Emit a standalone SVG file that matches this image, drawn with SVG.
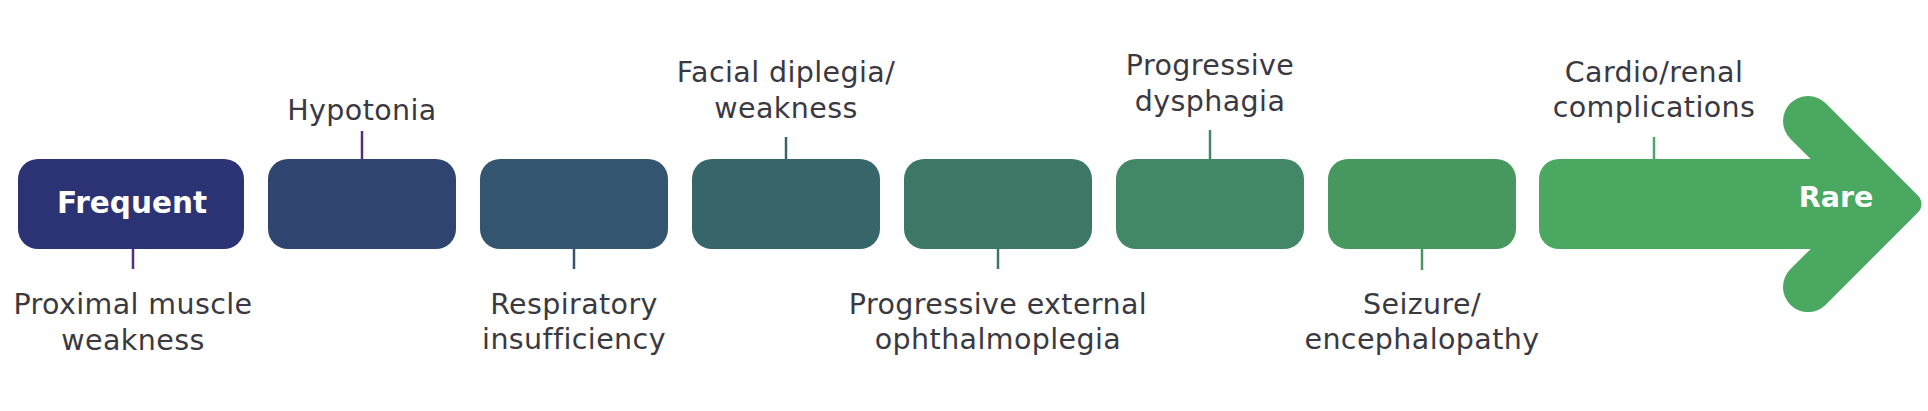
<svg xmlns="http://www.w3.org/2000/svg" width="1928" height="411" viewBox="0 0 1928 411">
<style>
.lbl{font-family:'DejaVu Sans','Open Sans',sans-serif;font-size:28.5px;fill:#3a393f;text-anchor:middle;letter-spacing:0.4px}
.big{font-family:'DejaVu Sans','Open Sans',sans-serif;font-weight:700;fill:#ffffff;text-anchor:middle}
.con{stroke-width:2.5;fill:none}
</style>
<rect width="1928" height="411" fill="#ffffff"/>
<g id="connectors">
<line class="con" x1="133" y1="249" x2="133" y2="269" stroke="#5a2c7e"/>
<line class="con" x1="362" y1="131" x2="362" y2="159" stroke="#5a2c7e"/>
<line class="con" x1="574" y1="249" x2="574" y2="269" stroke="#34556f"/>
<line class="con" x1="786" y1="137" x2="786" y2="159" stroke="#37666a"/>
<line class="con" x1="998" y1="249" x2="998" y2="269" stroke="#3c7768"/>
<line class="con" x1="1210" y1="130" x2="1210" y2="159" stroke="#428866"/>
<line class="con" x1="1422" y1="249" x2="1422" y2="270" stroke="#46985f"/>
<line class="con" x1="1654" y1="137" x2="1654" y2="159" stroke="#4aa860"/>
</g>
<g id="node-frequent">
<rect x="18" y="159" width="226" height="90" rx="20" fill="#2b3374"/>
<text class="big" x="132" y="213" font-size="29.5">Frequent</text>
<text class="lbl" x="133" y="314">Proximal muscle<tspan x="133" dy="36">weakness</tspan></text>
</g>
<g id="node-hypotonia">
<rect x="268" y="159" width="188" height="90" rx="20" fill="#2f4570"/>
<text class="lbl" x="362" y="120">Hypotonia</text>
</g>
<g id="node-respiratory">
<rect x="480" y="159" width="188" height="90" rx="20" fill="#33556f"/>
<text class="lbl" x="574" y="314">Respiratory<tspan x="574" dy="35">insufficiency</tspan></text>
</g>
<g id="node-facial">
<rect x="692" y="159" width="188" height="90" rx="20" fill="#37666a"/>
<text class="lbl" x="786" y="82">Facial diplegia/<tspan x="786" dy="36">weakness</tspan></text>
</g>
<g id="node-peo">
<rect x="904" y="159" width="188" height="90" rx="20" fill="#3c7768"/>
<text class="lbl" x="998" y="314">Progressive external<tspan x="998" dy="35">ophthalmoplegia</tspan></text>
</g>
<g id="node-dysphagia">
<rect x="1116" y="159" width="188" height="90" rx="20" fill="#428866"/>
<text class="lbl" x="1210" y="75">Progressive<tspan x="1210" dy="36">dysphagia</tspan></text>
</g>
<g id="node-seizure">
<rect x="1328" y="159" width="188" height="90" rx="20" fill="#46985f"/>
<text class="lbl" x="1422" y="314">Seizure/<tspan x="1422" dy="35">encephalopathy</tspan></text>
</g>
<g id="node-rare">
<path d="M1559,159 L1810.6,159 L1790.3,138.7 A25,25 0 0 1 1825.7,103.3 L1917.9,195.5 A12,12 0 0 1 1917.9,212.5 L1825.7,304.7 A25,25 0 0 1 1790.3,269.3 L1810.6,249 L1559,249 A20,20 0 0 1 1539,229 L1539,179 A20,20 0 0 1 1559,159 Z" fill="#4aa860"/>
<text class="big" x="1836" y="207" font-size="28.5">Rare</text>
<text class="lbl" x="1654" y="82">Cardio/renal<tspan x="1654" dy="35">complications</tspan></text>
</g>
</svg>
